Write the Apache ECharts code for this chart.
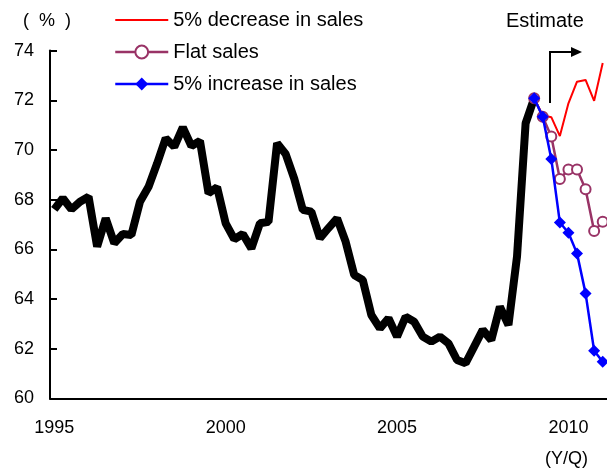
<!DOCTYPE html>
<html>
<head>
<meta charset="utf-8">
<script src="https://cdn.jsdelivr.net/npm/echarts@6/dist/echarts.min.js"></script>
<style>
  html, body { margin: 0; padding: 0; background: #fff; }
  #chart { width: 607px; height: 469px; }
</style>
</head>
<body>
<div id="chart"></div>
<script>
// Quarterly categories, 1995Q1 .. 2011Q1
const years = [];
for (let y = 1995; y <= 2011; y++) years.push(y);
const quarters = [];
years.forEach(y => [1, 2, 3, 4].forEach(q => {
  if (y < 2011 || q === 1) quarters.push(y + 'Q' + q);
}));

// Year labels shown under the axis
const yearLabels = ['1995', '2000', '2005', '2010'];

// Actual ratio (%), 1995Q1 .. 2009Q1
const actual = [
  67.61, 68.06, 67.61, 67.92,
  68.12, 66.11, 67.25, 66.25,
  66.62, 66.58, 67.92, 68.52,
  69.46, 70.47, 70.13, 70.91,
  70.16, 70.37, 68.26, 68.50,
  67.05, 66.41, 66.62, 66.04,
  67.05, 67.11, 70.27, 69.84,
  68.85, 67.59, 67.52, 66.45,
  66.86, 67.25, 66.31, 64.97,
  64.77, 63.36, 62.82, 63.23,
  62.49, 63.29, 63.09, 62.49,
  62.29, 62.49, 62.22, 61.55,
  61.42, 62.09, 62.76, 62.35,
  63.69, 62.96, 65.71, 71.07,
  72.08
];

// Estimates, 2009Q1 .. 2011Q1
const salesDown5 = [72.08, 71.40, 71.32, 70.56, 71.88, 72.75, 72.82, 71.98, 73.50];
const salesFlat  = [72.08, 71.34, 70.54, 68.83, 69.22, 69.22, 68.42, 66.74, 67.11];
const salesUp5   = [72.08, 71.34, 69.64, 67.08, 66.67, 65.84, 64.23, 61.92, 61.48];

const estimateStart = quarters.indexOf('2009Q1');
function pad(values, start) {
  const out = quarters.map(() => null);
  values.forEach((v, i) => { out[start + i] = v; });
  return out;
}

const font = '"Liberation Sans", Arial, sans-serif';
const chart = echarts.init(document.getElementById('chart'), null, { renderer: 'canvas' });

chart.setOption({
  animation: false,
  backgroundColor: '#ffffff',
  textStyle: { fontFamily: font, color: '#000' },
  grid: { left: 50, top: 50.6, bottom: 70.5, right: -4.4, containLabel: false },
  legend: {
    data: [
      { name: '5% decrease in sales', itemStyle: { opacity: 0 }, lineStyle: { width: 2 } },
      { name: 'Flat sales', lineStyle: { width: 2.5 } },
      { name: '5% increase in sales', lineStyle: { width: 2.5 } }
    ],
    orient: 'vertical',
    left: 109,
    top: 5,
    itemWidth: 53,
    itemHeight: 16,
    itemGap: 12,
    textStyle: { fontSize: 20, color: '#000', fontFamily: font }
  },
  xAxis: {
    type: 'category',
    data: quarters,
    boundaryGap: true,
    axisLine: { lineStyle: { color: '#000', width: 2 } },
    axisTick: { interval: 3, length: 7, lineStyle: { color: '#000', width: 2 } },
    axisLabel: {
      interval: 0,
      margin: 21,
      fontSize: 18,
      color: '#000',
      fontFamily: font,
      formatter: v => {
        const y = v.slice(0, 4);
        return (v.endsWith('Q1') && yearLabels.includes(y)) ? y : '';
      }
    },
    splitLine: { show: false }
  },
  yAxis: {
    type: 'value',
    min: 60,
    max: 74,
    interval: 2,
    axisLine: { show: true, lineStyle: { color: '#000', width: 2 } },
    axisTick: { show: true, inside: true, length: 7, lineStyle: { color: '#000', width: 2 } },
    axisLabel: { fontSize: 18, color: '#000', margin: 16, fontFamily: font },
    splitLine: { show: false }
  },
  series: [
    {
      name: 'Actual',
      type: 'line',
      data: pad(actual, 0),
      symbol: 'none',
      lineStyle: { color: '#000', width: 8 },
      itemStyle: { color: '#000' },
      z: 2
    },
    {
      name: '5% decrease in sales',
      type: 'line',
      data: pad(salesDown5, estimateStart),
      symbol: 'none',
      lineStyle: { color: '#ff0000', width: 2 },
      itemStyle: { color: '#ff0000' },
      z: 3
    },
    {
      name: 'Flat sales',
      type: 'line',
      data: pad(salesFlat, estimateStart),
      symbol: 'emptyCircle',
      symbolSize: 10,
      lineStyle: { color: '#993366', width: 2.5 },
      itemStyle: { color: '#993366', borderWidth: 2.5 },
      z: 4
    },
    {
      name: '5% increase in sales',
      type: 'line',
      data: pad(salesUp5, estimateStart),
      symbol: 'diamond',
      symbolSize: 12,
      lineStyle: { color: '#0000ff', width: 2.5 },
      itemStyle: { color: '#0000ff' },
      z: 5
    }
  ],
  graphic: [
    {
      type: 'text', left: 23, top: 12,
      style: { text: '(  %  )', font: '18px ' + font, fill: '#000' }
    },
    {
      type: 'text', left: 545, top: 450,
      style: { text: '(Y/Q)', font: '18px ' + font, fill: '#000' }
    },
    {
      type: 'text', left: 506, top: 11,
      style: { text: 'Estimate', font: '20px ' + font, fill: '#000' }
    },
    {
      type: 'polyline',
      shape: { points: [[550, 103], [550, 52], [572, 52]] },
      style: { stroke: '#000', lineWidth: 2, fill: null }
    },
    {
      type: 'polygon',
      shape: { points: [[571, 47], [582, 52], [571, 57]] },
      style: { fill: '#000' }
    }
  ]
});
</script>
</body>
</html>
